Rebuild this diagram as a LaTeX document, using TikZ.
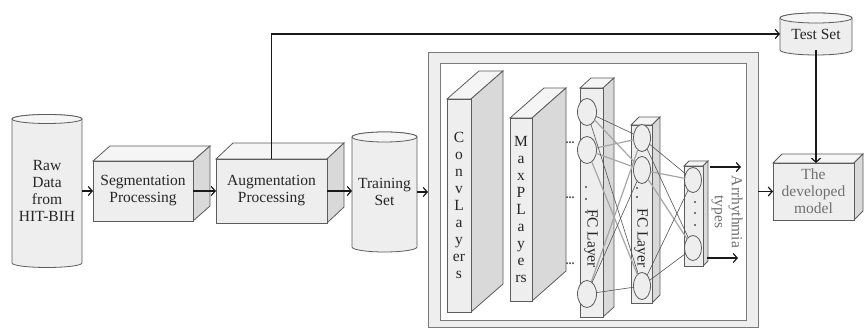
\documentclass[tikz,border=0pt]{standalone}
\usepackage{fontspec}
\setmainfont{Liberation Serif}
\usetikzlibrary{arrows.meta,calc,shapes.geometric,backgrounds}

\definecolor{facefront}{HTML}{EEEEEE}
\definecolor{facetop}{HTML}{F5F5F5}
\definecolor{faceside}{HTML}{D9D9D9}
\definecolor{edgegray}{HTML}{5C5C5C}
\definecolor{linkdark}{HTML}{555555}
\definecolor{linklight}{HTML}{A6A6A6}
\definecolor{textgray}{HTML}{707070}
\definecolor{framegray}{HTML}{7A7A7A}

\newcommand\labelfont{\fontsize{15.5}{17}\selectfont}

% top and right faces of a box whose front face is the node #1, depth (#2,#3)
\newcommand\cuboidfaces[3]{%
  \begin{scope}[on background layer]
    \draw[boxline, fill=facetop] (#1.north west) -- ++(#2,#3)
      -- ($(#1.north east)+(#2,#3)$) -- (#1.north east) -- cycle;
    \draw[boxline, fill=faceside] (#1.north east) -- ($(#1.north east)+(#2,#3)$)
      -- ($(#1.south east)+(#2,#3)$) -- (#1.south east) -- cycle;
  \end{scope}}

% drum around the node #1: half width #2, ellipse radius #3
\newcommand\drumfaces[3]{%
  \begin{scope}[on background layer]
    \draw[boxline, fill=facefront] (#1.north west) -- (#1.south west)
      arc[start angle=180, end angle=360, x radius=#2, y radius=#3]
      -- (#1.north east)
      arc[start angle=0, end angle=180, x radius=#2, y radius=#3] -- cycle;
    \draw[boxline, fill=facetop] (#1.north) ellipse[x radius=#2, y radius=#3];
  \end{scope}}

\tikzset{
  boxline/.style={draw=edgegray, line width=0.8pt},
  cubefront/.style={boxline, fill=facefront, inner sep=0pt, outer sep=0pt,
    align=center, font=\labelfont, text=black!85},
  drum/.style={inner sep=0pt, outer sep=0pt, align=center, font=\labelfont, text=black!85},
  neuron/.style={ellipse, boxline, fill=facefront, inner sep=0pt, outer sep=0pt},
  flow/.style={-{Straight Barb[length=4pt,width=9pt]}, line width=1.2pt, draw=black!90},
  linkd/.style={draw=linkdark, line width=0.6pt},
  linkl/.style={draw=linklight, line width=1.2pt},
  vtext/.style={rotate=-90, inner sep=0pt, font=\labelfont, text=black!85},
  dotmark/.style={circle, fill=black!70, inner sep=0pt, minimum size=2.4pt},
  ellip/.style={inner sep=0pt, font=\fontsize{12}{12}\selectfont\bfseries, text=black!70, anchor=base},
}

\begin{document}
\begin{tikzpicture}[x=1pt, y=1pt]
\useasboundingbox (0,0) rectangle (864,328);

% network frame
\begin{scope}[on background layer]
  \node[draw=framegray, line width=0.9pt, fill=facefront, minimum width=330pt,
        minimum height=275pt, inner sep=0pt, outer sep=0pt] (frameout) at (593,138.5) {};
  \node[draw=framegray, line width=0.9pt, fill=white, minimum width=306pt,
        minimum height=257pt, inner sep=0pt, outer sep=0pt] (framein) at (593,136.5) {};
\end{scope}

% data stores
\node[drum, minimum width=70pt, minimum height=144pt] (raw) at (47,137) {Raw\\Data\\from\\HIT-BIH};
\drumfaces{raw}{35}{4.5}
\node[drum, minimum width=65pt, minimum height=110pt] (train) at (384.5,136) {Training\\Set};
\drumfaces{train}{32.5}{5}
\node[drum, minimum width=72pt, minimum height=32pt] (test) at (816,294) {Test Set};
\drumfaces{test}{36}{5}

% processing steps
\node[cubefront, minimum width=100pt, minimum height=60pt] (seg) at (143,137) {Segmentation\\Processing};
\cuboidfaces{seg}{17}{15}
\node[cubefront, minimum width=111pt, minimum height=64pt] (aug) at (271.5,137) {Augmentation\\Processing};
\cuboidfaces{aug}{17}{16}
\node[cubefront, minimum width=81pt, minimum height=57pt, text=textgray] (model) at (813.5,136.5) {The\\developed\\model};
\cuboidfaces{model}{9}{9}

% network layers
\node[cubefront, minimum width=24pt, minimum height=213pt] (conv) at (459,122.5) {C\\o\\n\\v\\L\\a\\y\\er\\s};
\cuboidfaces{conv}{32}{28}
\node[cubefront, minimum width=22pt, minimum height=183pt] (maxp) at (521,118.5) {M\\a\\x\\P\\L\\a\\y\\e\\rs};
\cuboidfaces{maxp}{34}{30}
\node[cubefront, minimum width=23pt, minimum height=229pt] (fca) at (591.5,125.5) {};
\cuboidfaces{fca}{11}{10}
\node[cubefront, minimum width=21pt, minimum height=178pt] (fcb) at (641.5,114) {};
\cuboidfaces{fcb}{8}{8}
\node[cubefront, minimum width=19pt, minimum height=100pt] (fcc) at (693.5,112) {};
\cuboidfaces{fcc}{5}{5}

\node[vtext] (fcatxt) at (591,89.5) {FC Layer};
\node[vtext] (fcbtxt) at (641,90) {FC Layer};
\node[dotmark] (fcad1) at (586,141) {};
\node[dotmark] (fcad2) at (586,129) {};
\node[dotmark] (fcad3) at (586,116) {};
\node[dotmark] (fcbd1) at (637,149) {};
\node[dotmark] (fcbd2) at (637,140) {};
\node[dotmark] (fcbd3) at (637,131) {};
\node[dotmark] (fccd1) at (695,126) {};
\node[dotmark] (fccd2) at (695,115) {};
\node[dotmark] (fccd3) at (695,103) {};

\node[ellip] (el1) at (570,184) {...};
\node[ellip] (el2) at (570,129) {...};
\node[ellip] (el3) at (570,63) {...};

% neurons
\node[neuron, minimum width=19pt, minimum height=27pt] (a1) at (587,216) {};
\node[neuron, minimum width=19pt, minimum height=27pt] (a2) at (587,178) {};
\node[neuron, minimum width=19pt, minimum height=27pt] (a3) at (587,34) {};
\node[neuron, minimum width=17pt, minimum height=27pt] (b1) at (642,190) {};
\node[neuron, minimum width=17pt, minimum height=27pt] (b2) at (642,158) {};
\node[neuron, minimum width=17pt, minimum height=27pt] (b3) at (642,42) {};
\node[neuron, minimum width=17pt, minimum height=25pt] (c1) at (693,148) {};
\node[neuron, minimum width=17pt, minimum height=25pt] (c2) at (693,80) {};

% connections between neurons
\draw[linkl] (a1) -- (b2);
\draw[linkl] (a2) -- (b1);
\draw[linkl] (a2) -- (b2);
\draw[linkl] (a2) -- (b3);
\draw[linkl] (a3) -- (b1);
\draw[linkd] (a1) -- (b1);
\draw[linkd] (a1) -- (b3);
\draw[linkd] (a3) -- (b2);
\draw[linkd] (a3) -- (b3);
\draw[linkl] (b2) -- (c1);
\draw[linkl] (b2) -- (c2);
\draw[linkd] (b1) -- (c1);
\draw[linkd] (b1) -- (c2);
\draw[linkd] (b3) -- (c1);
\draw[linkd] (b3) -- (c2);

% outputs
\coordinate (o1s) at (710,161);
\coordinate (o1e) at (741,161);
\coordinate (o2s) at (707,70);
\coordinate (o2e) at (738,70);
\draw[flow] (o1s) -- (o1e);
\draw[flow] (o2s) -- (o2e);
\node[vtext, align=center, text=textgray] (types) at (727,116) {Arrhythmia\\types};

% data flow
\draw[flow] (raw.east) -- (raw.east -| seg.west);
\draw[flow] (seg.east) -- (seg.east -| aug.west);
\draw[flow] (aug.east) -- (aug.east -| train.west);
\draw[flow] (train.east) -- (train.east -| frameout.west);
\draw[flow] (aug.north) |- (test.west);
\draw[flow] (test.south) -- (test.south |- model.north);
\draw[flow] (frameout.east |- model.west) -- (model.west);

\end{tikzpicture}
\end{document}
